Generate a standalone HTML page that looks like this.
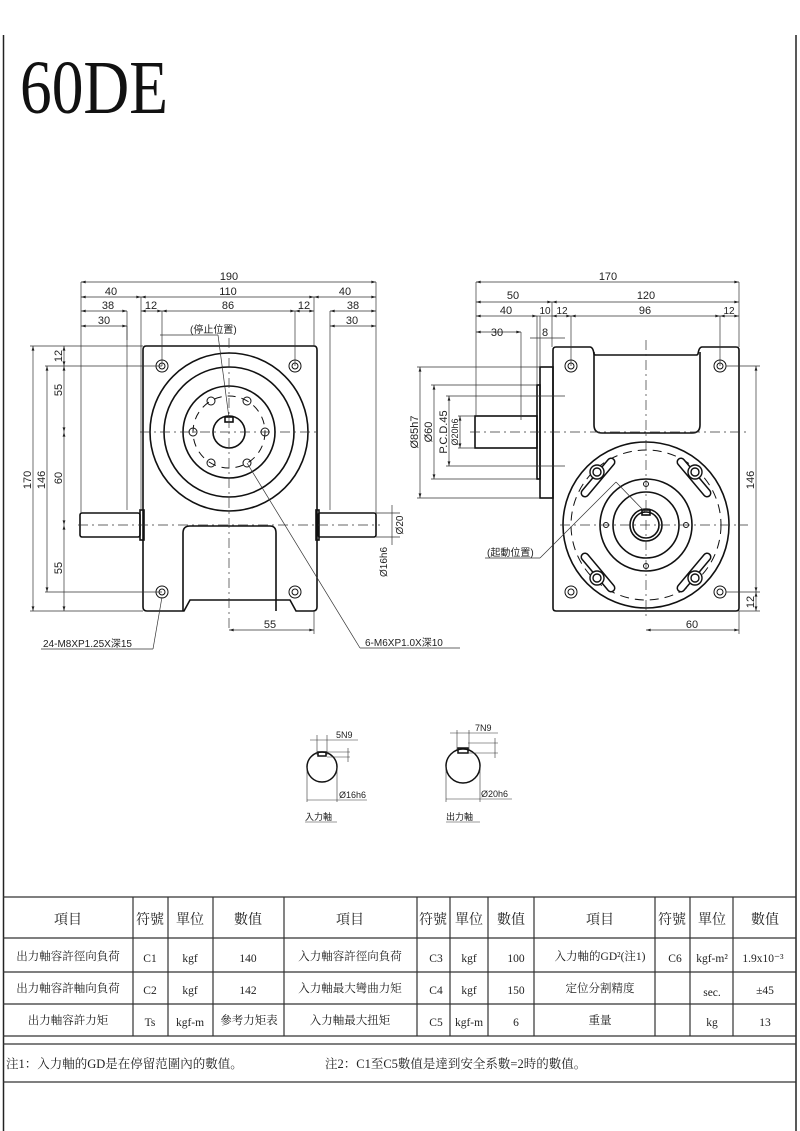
<!DOCTYPE html>
<html><head><meta charset="utf-8"><style>
html,body{margin:0;padding:0;background:#fff}
svg{display:block}
text{font-family:"Liberation Sans","Noto Sans CJK TC",sans-serif;fill:#222}
.s{font-family:"Liberation Serif","Noto Serif CJK SC",serif}
</style></head><body>
<svg width="800" height="1131" viewBox="0 0 800 1131" xmlns="http://www.w3.org/2000/svg">
<defs>
<marker id="a" viewBox="0 0 10 6" refX="10" refY="3" markerWidth="8" markerHeight="4" orient="auto-start-reverse"><path d="M0 0L10 3L0 6z" fill="#222"/></marker>
</defs>
<!-- border -->
<g stroke="#222" stroke-width="1.5" fill="none">
<line x1="3.5" y1="35" x2="3.5" y2="1131"/>
<line x1="796" y1="35" x2="796" y2="1131"/>
</g>
<text x="20" y="113" class="s" font-size="76" textLength="148" lengthAdjust="spacingAndGlyphs" style="fill:#111">60DE</text>

<!-- LEFT VIEW -->
<g stroke="#111" stroke-width="1.6" fill="none">
<path d="M146 346H314Q317 346 317 350V607Q317 611 313 611H296L290 600H190L184 611H147Q143 611 143 607V350Q143 346 146 346Z"/>
<path d="M183 611V533Q183 526 190 526H270Q276 526 276 533V611"/>
<circle cx="229" cy="432" r="79"/>
<circle cx="229" cy="432" r="65"/>
<circle cx="229" cy="432" r="46"/>
<circle cx="229" cy="432" r="16"/>
<rect x="225" y="417" width="8" height="5"/>
<rect x="80" y="513" width="60" height="24" rx="2"/>
<rect x="140" y="510" width="4" height="30"/>
<rect x="318" y="513" width="58" height="24" rx="2"/>
<rect x="316" y="510" width="3" height="30"/>
</g>
<g stroke="#111" stroke-width="1" fill="none">
<circle cx="162" cy="366" r="6"/><circle cx="162" cy="366" r="3"/>
<circle cx="295" cy="366" r="6"/><circle cx="295" cy="366" r="3"/>
<circle cx="162" cy="592" r="6"/><circle cx="162" cy="592" r="3"/>
<circle cx="295" cy="592" r="6"/><circle cx="295" cy="592" r="3"/>
<circle cx="211" cy="401" r="4"/><circle cx="247" cy="401" r="4"/>
<circle cx="193" cy="432" r="4"/><circle cx="265" cy="432" r="4"/>
<circle cx="211" cy="463" r="4"/><circle cx="247" cy="463" r="4"/>
<circle cx="229" cy="432" r="36" stroke-dasharray="8 6"/>
</g>
<g stroke="#333" stroke-width="0.7" fill="none" stroke-dasharray="10 4 2 4">
<line x1="229" y1="338" x2="229" y2="630"/>
<line x1="140" y1="432" x2="320" y2="432"/>
<line x1="78" y1="525" x2="380" y2="525"/>
</g>
<g stroke="#333" stroke-width="0.7" fill="none">
<line x1="81" y1="282" x2="81" y2="513"/><line x1="376" y1="282" x2="376" y2="513"/>
<line x1="141" y1="297" x2="141" y2="510"/><line x1="314" y1="297" x2="314" y2="346"/>
<line x1="127" y1="311" x2="127" y2="510"/><line x1="330" y1="311" x2="330" y2="510"/>
<line x1="162" y1="311" x2="162" y2="366"/><line x1="295" y1="311" x2="295" y2="366"/>
<line x1="127" y1="326" x2="127" y2="340"/>
<line x1="81" y1="282" x2="376" y2="282" marker-start="url(#a)" marker-end="url(#a)"/>
<line x1="81" y1="297" x2="141" y2="297" marker-start="url(#a)" marker-end="url(#a)"/>
<line x1="141" y1="297" x2="314" y2="297" marker-start="url(#a)" marker-end="url(#a)"/>
<line x1="314" y1="297" x2="376" y2="297" marker-start="url(#a)" marker-end="url(#a)"/>
<line x1="81" y1="311" x2="127" y2="311" marker-start="url(#a)" marker-end="url(#a)"/>
<line x1="141" y1="311" x2="162" y2="311" marker-start="url(#a)" marker-end="url(#a)"/>
<line x1="162" y1="311" x2="295" y2="311" marker-start="url(#a)" marker-end="url(#a)"/>
<line x1="295" y1="311" x2="314" y2="311" marker-start="url(#a)" marker-end="url(#a)"/>
<line x1="330" y1="311" x2="376" y2="311" marker-start="url(#a)" marker-end="url(#a)"/>
<line x1="81" y1="326" x2="127" y2="326" marker-start="url(#a)" marker-end="url(#a)"/>
<line x1="330" y1="326" x2="376" y2="326" marker-start="url(#a)" marker-end="url(#a)"/>
<!-- verticals -->
<line x1="30" y1="346" x2="143" y2="346"/><line x1="30" y1="611" x2="143" y2="611"/>
<line x1="45" y1="366" x2="162" y2="366"/><line x1="45" y1="592" x2="162" y2="592"/>
<line x1="33" y1="346" x2="33" y2="611" marker-start="url(#a)" marker-end="url(#a)"/>
<line x1="47" y1="366" x2="47" y2="592" marker-start="url(#a)" marker-end="url(#a)"/>
<line x1="64" y1="346" x2="64" y2="366" marker-start="url(#a)" marker-end="url(#a)"/>
<line x1="64" y1="366" x2="64" y2="432" marker-start="url(#a)" marker-end="url(#a)"/>
<line x1="64" y1="432" x2="64" y2="525" marker-start="url(#a)" marker-end="url(#a)"/>
<line x1="64" y1="525" x2="64" y2="611" marker-start="url(#a)" marker-end="url(#a)"/>
<line x1="229" y1="630" x2="314" y2="630" marker-start="url(#a)" marker-end="url(#a)"/>
<line x1="314" y1="611" x2="314" y2="634"/>
<line x1="376" y1="513" x2="400" y2="513"/><line x1="376" y1="537" x2="400" y2="537"/>
<line x1="392" y1="505" x2="392" y2="545"/>
<!-- leaders -->
<line x1="160" y1="335" x2="218" y2="335"/><line x1="218" y1="335" x2="229" y2="418"/>
<line x1="41" y1="649" x2="153" y2="649"/><line x1="153" y1="649" x2="162" y2="597"/>
<line x1="247" y1="463" x2="360" y2="648"/><line x1="360" y1="648" x2="460" y2="648"/>
</g>
<g font-size="11">
<text x="229" y="280" text-anchor="middle">190</text>
<text x="111" y="295" text-anchor="middle">40</text>
<text x="228" y="295" text-anchor="middle">110</text>
<text x="345" y="295" text-anchor="middle">40</text>
<text x="108" y="309" text-anchor="middle">38</text>
<text x="151" y="309" text-anchor="middle">12</text>
<text x="228" y="309" text-anchor="middle">86</text>
<text x="304" y="309" text-anchor="middle">12</text>
<text x="353" y="309" text-anchor="middle">38</text>
<text x="104" y="324" text-anchor="middle">30</text>
<text x="352" y="324" text-anchor="middle">30</text>
<text x="190" y="333" font-size="10">(停止位置)</text>
<text transform="translate(31 480) rotate(-90)" text-anchor="middle">170</text>
<text transform="translate(45 480) rotate(-90)" text-anchor="middle">146</text>
<text transform="translate(62 356) rotate(-90)" text-anchor="middle">12</text>
<text transform="translate(62 390) rotate(-90)" text-anchor="middle">55</text>
<text transform="translate(62 478) rotate(-90)" text-anchor="middle">60</text>
<text transform="translate(62 568) rotate(-90)" text-anchor="middle">55</text>
<text transform="translate(403 525) rotate(-90)" text-anchor="middle" font-size="10">Ø20</text>
<text transform="translate(387 562) rotate(-90)" text-anchor="middle" font-size="10">Ø16h6</text>
<text x="270" y="628" text-anchor="middle">55</text>
<text x="43" y="647" font-size="10">24-M8XP1.25X深15</text>
<text x="365" y="646" font-size="10">6-M6XP1.0X深10</text>
</g>

<!-- RIGHT VIEW -->
<g stroke="#111" stroke-width="1.6" fill="none">
<path d="M556 347H590Q593 347 594 354L595 355H697L698 354Q699 347 702 347H736Q739 347 739 350V608Q739 611 736 611H556Q553 611 553 608V350Q553 347 556 347Z"/>
<path d="M594 352V425Q594 433 602 433H692Q700 433 700 425V352"/>
<rect x="540" y="367" width="13" height="131"/>
<rect x="537" y="385" width="3" height="94"/>
<rect x="475" y="416" width="62" height="32"/>
<circle cx="646" cy="525" r="83"/>
<circle cx="646" cy="525" r="46"/>
<circle cx="646" cy="525" r="33"/>
<circle cx="646" cy="525" r="16"/>
<circle cx="646" cy="525" r="13"/>
<rect x="642" y="510" width="8" height="5"/>
</g>
<g stroke="#111" stroke-width="1" fill="none">
<circle cx="646" cy="525" r="75" stroke-dasharray="9 6"/>
<circle cx="571" cy="366" r="6"/><circle cx="571" cy="366" r="3"/>
<circle cx="720" cy="366" r="6"/><circle cx="720" cy="366" r="3"/>
<circle cx="571" cy="592" r="6"/><circle cx="571" cy="592" r="3"/>
<circle cx="720" cy="592" r="6"/><circle cx="720" cy="592" r="3"/>
<circle cx="646" cy="484" r="2.5"/><circle cx="646" cy="566" r="2.5"/>
<circle cx="606" cy="525" r="2.5"/><circle cx="686" cy="525" r="2.5"/>
<g stroke-width="1.4">
<path d="M585 493L611 462" stroke-width="9" stroke="#111" stroke-linecap="round"/>
<path d="M585 493L611 462" stroke-width="6" stroke="#fff" stroke-linecap="round"/>
<path d="M707 493L681 462" stroke-width="9" stroke="#111" stroke-linecap="round"/>
<path d="M707 493L681 462" stroke-width="6" stroke="#fff" stroke-linecap="round"/>
<path d="M585 557L611 588" stroke-width="9" stroke="#111" stroke-linecap="round"/>
<path d="M585 557L611 588" stroke-width="6" stroke="#fff" stroke-linecap="round"/>
<path d="M707 557L681 588" stroke-width="9" stroke="#111" stroke-linecap="round"/>
<path d="M707 557L681 588" stroke-width="6" stroke="#fff" stroke-linecap="round"/>
<circle cx="597" cy="472" r="7" fill="#fff"/><circle cx="597" cy="472" r="4"/>
<circle cx="695" cy="472" r="7" fill="#fff"/><circle cx="695" cy="472" r="4"/>
<circle cx="597" cy="578" r="7" fill="#fff"/><circle cx="597" cy="578" r="4"/>
<circle cx="695" cy="578" r="7" fill="#fff"/><circle cx="695" cy="578" r="4"/>
</g>
</g>
<g stroke="#333" stroke-width="0.7" fill="none" stroke-dasharray="10 4 2 4">
<line x1="646" y1="340" x2="646" y2="620"/>
<line x1="470" y1="432" x2="748" y2="432"/>
<line x1="560" y1="525" x2="748" y2="525"/>
</g>
<g stroke="#333" stroke-width="0.7" fill="none">
<line x1="476" y1="282" x2="476" y2="416"/><line x1="739" y1="282" x2="739" y2="347"/>
<line x1="552" y1="302" x2="552" y2="347"/>
<line x1="537" y1="316" x2="537" y2="385"/><line x1="540" y1="316" x2="540" y2="367"/>
<line x1="571" y1="316" x2="571" y2="366"/><line x1="720" y1="316" x2="720" y2="366"/>
<line x1="521" y1="332" x2="521" y2="420"/>
<line x1="476" y1="282" x2="739" y2="282" marker-start="url(#a)" marker-end="url(#a)"/>
<line x1="476" y1="302" x2="552" y2="302" marker-start="url(#a)" marker-end="url(#a)"/>
<line x1="552" y1="302" x2="739" y2="302" marker-start="url(#a)" marker-end="url(#a)"/>
<line x1="476" y1="316" x2="537" y2="316" marker-start="url(#a)" marker-end="url(#a)"/>
<line x1="537" y1="316" x2="552" y2="316"/>
<line x1="552" y1="316" x2="571" y2="316" marker-start="url(#a)" marker-end="url(#a)"/>
<line x1="571" y1="316" x2="720" y2="316" marker-start="url(#a)" marker-end="url(#a)"/>
<line x1="720" y1="316" x2="739" y2="316" marker-start="url(#a)" marker-end="url(#a)"/>
<line x1="476" y1="332" x2="521" y2="332" marker-start="url(#a)" marker-end="url(#a)"/>
<line x1="530" y1="338" x2="565" y2="338"/>
<!-- vertical dims -->
<line x1="417" y1="367" x2="540" y2="367"/><line x1="417" y1="498" x2="540" y2="498"/>
<line x1="431" y1="385" x2="537" y2="385"/><line x1="431" y1="479" x2="537" y2="479"/>
<line x1="446" y1="396" x2="565" y2="396"/><line x1="446" y1="466" x2="565" y2="466"/>
<line x1="458" y1="416" x2="475" y2="416"/><line x1="458" y1="448" x2="475" y2="448"/>
<line x1="420" y1="367" x2="420" y2="498" marker-start="url(#a)" marker-end="url(#a)"/>
<line x1="434" y1="385" x2="434" y2="479" marker-start="url(#a)" marker-end="url(#a)"/>
<line x1="449" y1="396" x2="449" y2="466" marker-start="url(#a)" marker-end="url(#a)"/>
<line x1="460" y1="416" x2="460" y2="448" marker-start="url(#a)" marker-end="url(#a)"/>
<line x1="726" y1="366" x2="760" y2="366"/><line x1="726" y1="592" x2="760" y2="592"/>
<line x1="739" y1="611" x2="760" y2="611"/>
<line x1="756" y1="366" x2="756" y2="592" marker-start="url(#a)" marker-end="url(#a)"/>
<line x1="756" y1="592" x2="756" y2="611" marker-start="url(#a)" marker-end="url(#a)"/>
<line x1="646" y1="630" x2="739" y2="630" marker-start="url(#a)" marker-end="url(#a)"/>
<line x1="739" y1="611" x2="739" y2="634"/>
<line x1="485" y1="558" x2="540" y2="558"/><line x1="540" y1="558" x2="616" y2="482"/><line x1="616" y1="482" x2="645" y2="512"/>
</g>
<g font-size="11">
<text x="608" y="280" text-anchor="middle">170</text>
<text x="513" y="299" text-anchor="middle">50</text>
<text x="646" y="299" text-anchor="middle">120</text>
<text x="506" y="314" text-anchor="middle">40</text>
<text x="545" y="314" text-anchor="middle" font-size="10">10</text>
<text x="562" y="314" text-anchor="middle" font-size="10">12</text>
<text x="645" y="314" text-anchor="middle">96</text>
<text x="729" y="314" text-anchor="middle" font-size="10">12</text>
<text x="497" y="336" text-anchor="middle">30</text>
<text x="545" y="336" text-anchor="middle">8</text>
<text transform="translate(418 432) rotate(-90)" text-anchor="middle">Ø85h7</text>
<text transform="translate(432 432) rotate(-90)" text-anchor="middle">Ø60</text>
<text transform="translate(447 432) rotate(-90)" text-anchor="middle">P.C.D.45</text>
<text transform="translate(458 432) rotate(-90)" text-anchor="middle" font-size="9">Ø20h6</text>
<text transform="translate(754 480) rotate(-90)" text-anchor="middle">146</text>
<text transform="translate(754 602) rotate(-90)" text-anchor="middle">12</text>
<text x="692" y="628" text-anchor="middle">60</text>
<text x="487" y="556" font-size="10">(起動位置)</text>
</g>

<!-- shaft sections -->
<g stroke="#111" stroke-width="1.5" fill="none">
<circle cx="322" cy="767" r="15"/>
<rect x="318" y="752" width="8" height="4"/>
<circle cx="463" cy="766" r="17"/>
<rect x="458" y="748" width="10" height="5"/>
</g>
<g stroke="#333" stroke-width="0.6" fill="none">
<line x1="310" y1="740" x2="358" y2="740"/>
<line x1="317" y1="735" x2="317" y2="755"/><line x1="327" y1="735" x2="327" y2="755"/>
<line x1="327" y1="752" x2="350" y2="752"/><line x1="327" y1="757" x2="350" y2="757"/>
<line x1="348" y1="748" x2="348" y2="762"/>
<line x1="307" y1="767" x2="307" y2="802"/><line x1="337" y1="767" x2="337" y2="802"/>
<line x1="307" y1="800" x2="367" y2="800"/>
<line x1="450" y1="733" x2="498" y2="733"/>
<line x1="457" y1="730" x2="457" y2="750"/><line x1="469" y1="730" x2="469" y2="750"/>
<line x1="468" y1="743" x2="498" y2="743"/><line x1="468" y1="753" x2="498" y2="753"/>
<line x1="495" y1="738" x2="495" y2="758"/>
<line x1="446" y1="766" x2="446" y2="802"/><line x1="480" y1="766" x2="480" y2="802"/>
<line x1="446" y1="799" x2="512" y2="799"/>
<line x1="305" y1="822" x2="337" y2="822"/>
<line x1="446" y1="822" x2="480" y2="822"/>
</g>
<g font-size="9">
<text x="336" y="738">5N9</text>
<text x="339" y="798">Ø16h6</text>
<text x="475" y="731">7N9</text>
<text x="481" y="797">Ø20h6</text>
<text x="305" y="820">入力軸</text>
<text x="446" y="820">出力軸</text>
</g>

<!-- TABLE -->
<g stroke="#333" stroke-width="1.2" fill="none">
<line x1="3" y1="897" x2="796" y2="897"/>
<line x1="3" y1="938" x2="796" y2="938"/>
<line x1="3" y1="972" x2="796" y2="972"/>
<line x1="3" y1="1004" x2="796" y2="1004"/>
<line x1="3" y1="1036" x2="796" y2="1036"/>
<line x1="3" y1="1044" x2="796" y2="1044"/>
<line x1="3" y1="1082" x2="796" y2="1082"/>
<line x1="133" y1="897" x2="133" y2="1036"/>
<line x1="168" y1="897" x2="168" y2="1036"/>
<line x1="213" y1="897" x2="213" y2="1036"/>
<line x1="284" y1="897" x2="284" y2="1036"/>
<line x1="417" y1="897" x2="417" y2="1036"/>
<line x1="450" y1="897" x2="450" y2="1036"/>
<line x1="488" y1="897" x2="488" y2="1036"/>
<line x1="534" y1="897" x2="534" y2="1036"/>
<line x1="655" y1="897" x2="655" y2="1036"/>
<line x1="690" y1="897" x2="690" y2="1036"/>
<line x1="733" y1="897" x2="733" y2="1036"/>
</g>
<g font-size="14" text-anchor="middle" class="s">
<text x="68" y="924" class="s">項目</text>
<text x="150" y="924" class="s">符號</text>
<text x="190" y="924" class="s">單位</text>
<text x="248" y="924" class="s">數值</text>
<text x="350" y="924" class="s">項目</text>
<text x="433" y="924" class="s">符號</text>
<text x="469" y="924" class="s">單位</text>
<text x="511" y="924" class="s">數值</text>
<text x="600" y="924" class="s">項目</text>
<text x="672" y="924" class="s">符號</text>
<text x="712" y="924" class="s">單位</text>
<text x="765" y="924" class="s">數值</text>
</g>
<g font-size="11.5" text-anchor="middle">
<text x="68" y="960" class="s">出力軸容許徑向負荷</text>
<text x="150" y="962" class="s">C1</text>
<text x="190" y="962" class="s">kgf</text>
<text x="248" y="962" class="s">140</text>
<text x="350" y="960" class="s">入力軸容許徑向負荷</text>
<text x="436" y="962" class="s">C3</text>
<text x="469" y="962" class="s">kgf</text>
<text x="516" y="962" class="s">100</text>
<text x="600" y="960" class="s">入力軸的GD²(注1)</text>
<text x="675" y="962" class="s">C6</text>
<text x="712" y="962" class="s">kgf-m²</text>
<text x="763" y="962" class="s">1.9x10⁻³</text>
<text x="68" y="992" class="s">出力軸容許軸向負荷</text>
<text x="150" y="994" class="s">C2</text>
<text x="190" y="994" class="s">kgf</text>
<text x="248" y="994" class="s">142</text>
<text x="350" y="992" class="s">入力軸最大彎曲力矩</text>
<text x="436" y="994" class="s">C4</text>
<text x="469" y="994" class="s">kgf</text>
<text x="516" y="994" class="s">150</text>
<text x="600" y="992" class="s">定位分割精度</text>
<text x="712" y="996" class="s">sec.</text>
<text x="765" y="994" class="s">±45</text>
<text x="68" y="1024" class="s">出力軸容許力矩</text>
<text x="150" y="1026" class="s">Ts</text>
<text x="190" y="1026" class="s">kgf-m</text>
<text x="249" y="1024" class="s">參考力矩表</text>
<text x="350" y="1024" class="s">入力軸最大扭矩</text>
<text x="436" y="1026" class="s">C5</text>
<text x="469" y="1026" class="s">kgf-m</text>
<text x="516" y="1026" class="s">6</text>
<text x="600" y="1024" class="s">重量</text>
<text x="712" y="1026" class="s">kg</text>
<text x="765" y="1026" class="s">13</text>
</g>
<text x="6" y="1068" font-size="12.5" class="s">注1：入力軸的GD是在停留范圍內的數值。</text>
<text x="325" y="1068" font-size="12.5" class="s">注2：C1至C5數值是達到安全系數=2時的數值。</text>
</svg>
</body></html>
